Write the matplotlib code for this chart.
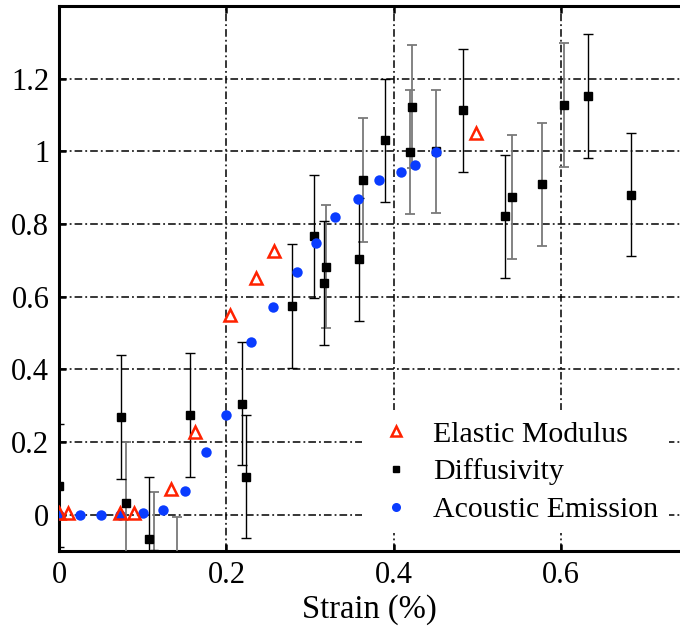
import numpy as np
import matplotlib.pyplot as plt
from matplotlib.lines import Line2D

plt.rcParams['font.family'] = ['Liberation Serif', 'DejaVu Serif']

# elastic modulus (open red triangles)
em_x = [0.0, 0.011, 0.0733, 0.09, 0.1335, 0.1626, 0.2044, 0.235, 0.2567, 0.4977]
em_y = [0.005, 0.005, 0.005, 0.005, 0.072, 0.229, 0.549, 0.652, 0.727, 1.051]

# diffusivity, black error bars
dk_x = [0.0, 0.0745, 0.107, 0.156, 0.219, 0.224, 0.278, 0.3045, 0.3164, 0.358,
        0.389, 0.4833, 0.5323, 0.6316, 0.683]
dk_y = [0.08, 0.269, -0.067, 0.275, 0.306, 0.105, 0.575, 0.766, 0.638, 0.703,
        1.03, 1.113, 0.821, 1.153, 0.881]
dk_err = [0.17] * len(dk_x)

# diffusivity, grey error bars
dg_x = [0.0797, 0.1136, 0.1407, 0.319, 0.3634, 0.4196, 0.422, 0.451, 0.5415,
        0.5774, 0.6033]
dg_y = [0.031, -0.107, -0.175, 0.683, 0.921, 0.999, 1.123, 1.0, 0.875, 0.909,
        1.128]
dg_err = [0.17] * len(dg_x)

# acoustic emission (blue dots)
ae_x = [0.0, 0.025, 0.0502, 0.0733, 0.1004, 0.1247, 0.1502, 0.1753, 0.2, 0.2295,
        0.2554, 0.284, 0.3076, 0.33, 0.3574, 0.382, 0.409, 0.4248, 0.4507]
ae_y = [0.0, 0.0, 0.0, 0.0, 0.005, 0.013, 0.065, 0.174, 0.274, 0.475,
        0.573, 0.667, 0.748, 0.82, 0.868, 0.92, 0.942, 0.962, 0.998]

red = '#ff2200'
blue = '#0a3cff'
grey = '#7a7a7a'

fig = plt.figure(figsize=(6.8, 6.32), dpi=100)
ax = fig.add_axes([0.0868, 0.128, 0.9132, 0.8625])

ax.errorbar(dg_x, dg_y, yerr=dg_err, fmt='none', ecolor=grey, elinewidth=1.3,
            capsize=3.6, capthick=1.3, zorder=3)
ax.errorbar(dk_x, dk_y, yerr=dk_err, fmt='none', ecolor='k', elinewidth=1.0,
            capsize=3.6, capthick=1.0, zorder=3)
ax.plot(dk_x + dg_x, dk_y + dg_y, 's', color='k', ms=5.5, zorder=4)
ax.plot(ae_x, ae_y, 'o', color=blue, ms=7.5, mec='none', zorder=5)
ax.plot(em_x, em_y, '^', mfc='none', mec=red, ms=8, mew=1.8, zorder=6)

ax.set_xlim(0, 0.742)
ax.set_ylim(-0.1, 1.4)
ax.set_xticks([0, 0.2, 0.4, 0.6])
ax.set_xticklabels(['0', '0.2', '0.4', '0.6'])
ax.set_yticks([0, 0.2, 0.4, 0.6, 0.8, 1.0, 1.2])
ax.set_yticklabels(['0', '0.2', '0.4', '0.6', '0.8', '1', '1.2'])
ax.tick_params(direction='in', top=True, right=False, length=5, width=1.8,
               labelsize=22, pad=7)
ax.grid(True, color='k', linewidth=1.1, linestyle=(0, (5, 2, 1.2, 2)), zorder=1)
ax.set_axisbelow(True)
for s in ['left', 'bottom', 'top']:
    ax.spines[s].set_linewidth(2.2)
ax.spines['right'].set_visible(False)
ax.set_xlabel('Strain (%)', fontsize=23.5, labelpad=3)

handles = [
    Line2D([], [], marker='^', ls='none', mfc='none', mec=red, ms=7.5, mew=1.8),
    Line2D([], [], marker='s', ls='none', color='k', ms=5),
    Line2D([], [], marker='o', ls='none', color=blue, mec='none', ms=6.5),
]
leg = ax.legend(handles, ['Elastic Modulus', 'Diffusivity', 'Acoustic Emission'],
                loc='lower right', bbox_to_anchor=(1.006, 0.005), fontsize=21.5,
                frameon=True, framealpha=1, edgecolor='none', fancybox=False,
                handletextpad=0.45, handlelength=1.6, labelspacing=0.36,
                borderpad=0.35)
leg.set_zorder(10)

fig.savefig('out.png', dpi=100)
